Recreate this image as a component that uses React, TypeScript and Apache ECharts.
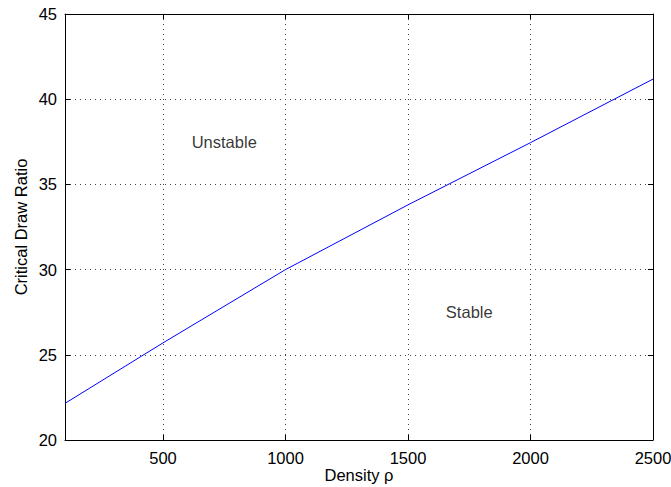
import React, { useEffect, useRef } from "react";
import * as echarts from "echarts";

const densities = [100, 500, 1000, 1500, 2000, 2500];
const drawRatios = [22.15, 25.7, 30.0, 33.8, 37.45, 41.18];
const xTicks = [500, 1000, 1500, 2000, 2500];
const yTicks = [20, 25, 30, 35, 40, 45];
const regionLabels = ["Unstable", "Stable"];
const regionPositions = [
  [750, 37.5],
  [1750, 27.5],
];

const FONT = "Liberation Sans, Arial, Helvetica, sans-serif";
const FS = 16.5;

export default function App() {
  const ref = useRef<HTMLDivElement>(null);
  useEffect(() => {
    if (!ref.current) return;
    const chart = echarts.init(ref.current, undefined, { renderer: "svg" });
    const tickStyle = { show: true, inside: true, length: 5, lineStyle: { color: "#000", width: 1 } };
    const axisLine = { show: true, onZero: false, lineStyle: { color: "#000", width: 1 } };
    const gridLine = { show: true, lineStyle: { color: "#444", width: 1, type: [1, 4] as any } };
    chart.setOption({
      animation: false,
      backgroundColor: "#fff",
      grid: { left: 65, right: 18, top: 14, bottom: 47, containLabel: false, outerBoundsMode: "none" },
      xAxis: [
        {
          type: "value",
          min: 100,
          max: 2500,
          position: "bottom",
          axisLine,
          axisTick: { ...tickStyle, customValues: xTicks },
          axisLabel: {
            customValues: xTicks,
            color: "#000",
            fontSize: FS,
            fontFamily: FONT,
            margin: 9,
            formatter: (v: number) => String(v),
          },
          splitLine: gridLine,
          name: "Density ρ",
          nameLocation: "middle",
          nameGap: 26,
          nameMoveOverlap: false,
          nameTextStyle: { color: "#000", fontSize: FS, fontFamily: FONT },
        },
        {
          type: "value",
          min: 100,
          max: 2500,
          position: "top",
          axisLine,
          axisTick: { ...tickStyle, customValues: xTicks },
          axisLabel: { show: false, customValues: xTicks },
          splitLine: { show: false },
        },
      ],
      yAxis: [
        {
          type: "value",
          min: 20,
          max: 45,
          interval: 5,
          position: "left",
          axisLine,
          axisTick: tickStyle,
          axisLabel: {
            color: "#000",
            fontSize: FS,
            fontFamily: FONT,
            margin: 8,
            formatter: (v: number) => (yTicks.includes(v) ? String(v) : ""),
          },
          splitLine: gridLine,
          name: "Critical Draw Ratio",
          nameLocation: "middle",
          nameGap: 36,
          nameMoveOverlap: false,
          nameTextStyle: { color: "#000", fontSize: FS, fontFamily: FONT },
        },
        {
          type: "value",
          min: 20,
          max: 45,
          interval: 5,
          position: "right",
          axisLine,
          axisTick: tickStyle,
          axisLabel: { show: false },
          splitLine: { show: false },
        },
      ],
      series: [
        {
          type: "line",
          data: densities.map((d, i) => [d, drawRatios[i]]),
          showSymbol: false,
          symbol: "none",
          smooth: false,
          lineStyle: { color: "#0000ff", width: 1 },
          xAxisIndex: 0,
          yAxisIndex: 0,
        },
        {
          type: "scatter",
          symbolSize: 0,
          silent: true,
          data: regionLabels.map((name, i) => ({ name, value: regionPositions[i] })),
          label: {
            show: true,
            position: "inside",
            formatter: (p: any) => p.name,
            color: "#000",
            fontSize: FS,
            fontFamily: FONT,
          },
          xAxisIndex: 0,
          yAxisIndex: 0,
        },
      ],
    });
    return () => chart.dispose();
  }, []);
  return <div ref={ref} style={{ position: "absolute", left: 0, top: 0, width: 671, height: 487 }} />;
}
